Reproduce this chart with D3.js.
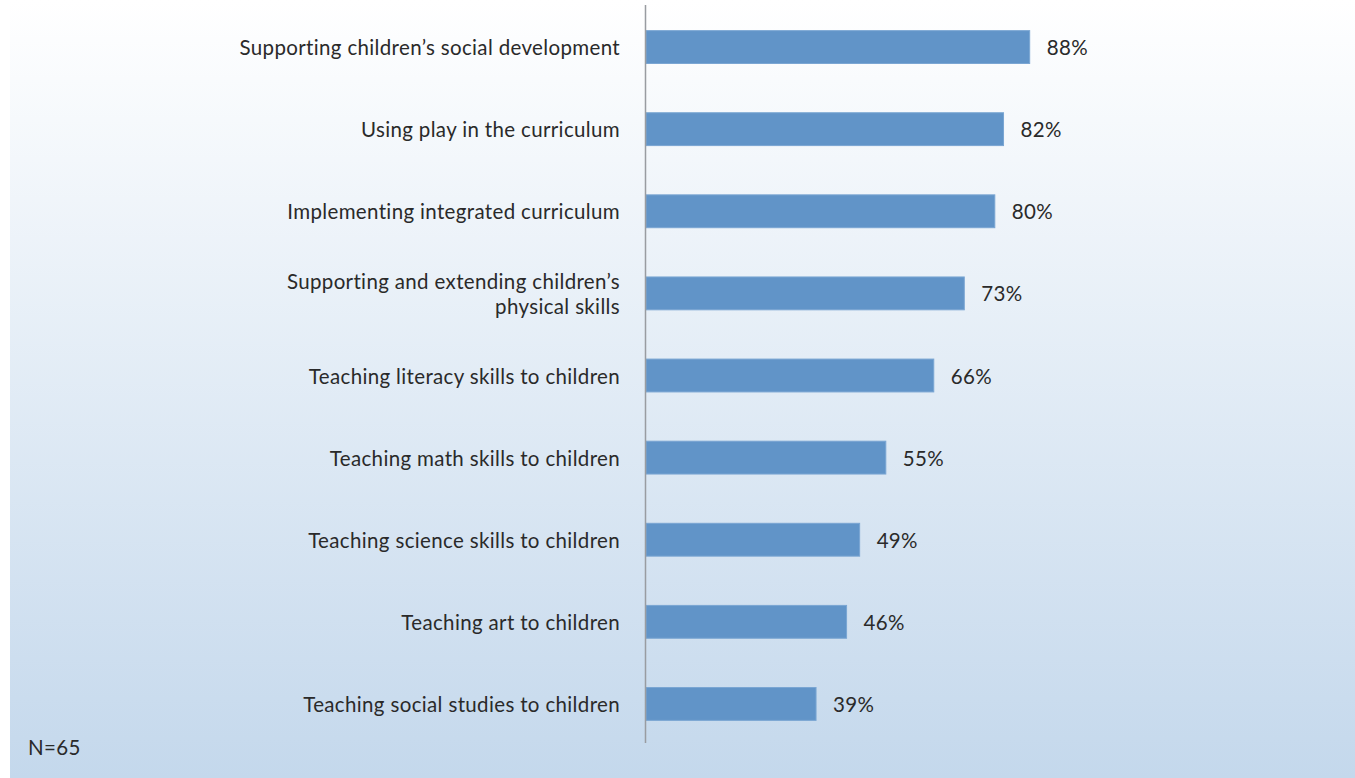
<!DOCTYPE html>
<html><head><meta charset="utf-8">
<script src="https://cdn.jsdelivr.net/npm/d3@7"></script>
<style>body{margin:0;background:#fff;} svg{display:block;}</style>
</head><body>
<svg id="chart" width="1355" height="778"></svg>
<script>
const categories = [
  ["Supporting children\u2019s social development"],
  ["Using play in the curriculum"],
  ["Implementing integrated curriculum"],
  ["Supporting and extending children\u2019s", "physical skills"],
  ["Teaching literacy skills to children"],
  ["Teaching math skills to children"],
  ["Teaching science skills to children"],
  ["Teaching art to children"],
  ["Teaching social studies to children"]
];
const values = [88, 82, 80, 73, 66, 55, 49, 46, 39];
const valueLabels = ["88%", "82%", "80%", "73%", "66%", "55%", "49%", "46%", "39%"];
const note = "N=65";

const svg = d3.select("#chart");
const defs = svg.append("defs");
const grad = defs.append("linearGradient").attr("id","bg").attr("x1",0).attr("y1",0).attr("x2",0).attr("y2",1);
grad.append("stop").attr("offset","0%").attr("stop-color","#ffffff");
grad.append("stop").attr("offset","100%").attr("stop-color","#c4d8ec");
svg.append("rect").attr("x",10).attr("y",0).attr("width",1345).attr("height",778).attr("fill","url(#bg)");

const x = d3.scaleLinear().domain([0,100]).range([646, 1082]);
const idx = categories.map((d,i)=>i);
const y = d3.scaleBand().domain(idx).range([6, 745]).paddingInner(0.6).paddingOuter(0.3);
const font = "Lato, 'Open Sans', sans-serif";
const fs = 20.5, ls = 0.35, fw = 400, tc = "#2a2a2a";

svg.append("g").selectAll("rect").data(values).join("rect")
  .attr("x", x(0)).attr("y",(d,i)=>y(i)).attr("width",d=>x(d)-x(0)).attr("height",y.bandwidth())
  .attr("fill","#6194c8").attr("stroke","#7aa6d3").attr("stroke-width",1);

svg.append("line").attr("x1",645.5).attr("x2",645.5).attr("y1",5).attr("y2",743)
  .attr("stroke","#999ca1").attr("stroke-width",1.5);

const lab = svg.append("g").selectAll("text").data(categories).join("text")
  .attr("x",620).attr("text-anchor","end").attr("font-family",font).attr("font-weight",fw)
  .attr("font-size",fs).attr("letter-spacing",ls).attr("fill",tc);
lab.each(function(lines,i){
  const cy = y(i)+y.bandwidth()/2;
  const n = lines.length;
  d3.select(this).selectAll("tspan").data(lines).join("tspan")
    .attr("x",620).attr("y",(l,j)=>cy + 8 + (j-(n-1)/2)*25).text(l=>l);
});

svg.append("g").selectAll("text").data(values).join("text")
  .attr("x",d=>x(d)+17).attr("y",(d,i)=>y(i)+y.bandwidth()/2+8)
  .attr("font-family",font).attr("font-weight",fw).attr("font-size",fs).attr("letter-spacing",ls).attr("fill",tc)
  .text((d,i)=>valueLabels[i]);

svg.append("text").attr("x",28).attr("y",755).attr("font-family",font).attr("font-weight",fw)
  .attr("font-size",fs).attr("letter-spacing",ls).attr("fill",tc).text(note);
</script>
</body></html>
